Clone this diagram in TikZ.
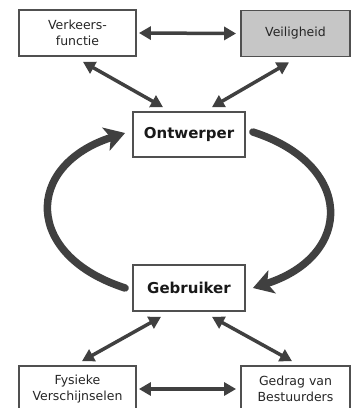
\documentclass[tikz,border=0pt]{standalone}
\usepackage{fontspec}
\setmainfont{DejaVu Sans}
\usetikzlibrary{arrows.meta,calc}
\definecolor{ln}{HTML}{404040}
\definecolor{bd}{HTML}{505050}
\definecolor{gf}{HTML}{C6C6C6}
\begin{document}
\begin{tikzpicture}[x=1pt,y=-1pt,
  box/.style={draw=bd,line width=1.8pt,fill=white,align=center,inner sep=0pt,
    font=\fontsize{12.5}{16}\selectfont,text=black!85},
  mainbox/.style={box,font=\fontsize{15}{17}\selectfont\bfseries,text=black!90},
  dbl/.style={ln,line width=3.5pt,{Triangle[length=12pt,width=13pt]}-{Triangle[length=12pt,width=13pt]}},
  big/.style={ln,line width=7.5pt,line cap=round,-{Stealth[length=20pt,width=24pt,inset=5pt]}}]
\useasboundingbox (0,0) rectangle (353,408);
\clip (0,0) rectangle (353,408);
\node[box,minimum width=117pt,minimum height=46pt] (vf) at (77.5,33) {Verkeers-\\functie};
\node[box,fill=gf,minimum width=109pt,minimum height=46pt] (vl) at (295.5,33.5) {Veiligheid};
\node[mainbox,minimum width=112pt,minimum height=45pt] (ow) at (189,134.5) {Ontwerper};
\node[mainbox,minimum width=112pt,minimum height=46pt] (gb) at (189,288) {Gebruiker};
\node[box,minimum width=117pt,minimum height=46pt] (fv) at (77.5,389) {Fysieke\\Verschijnselen};
\node[box,minimum width=109pt,minimum height=46pt] (gv) at (295.5,389) {Gedrag van\\Bestuurders};
% small double arrows
\draw[dbl] ($(vf.east)+(2,0)$) -- ($(vl.west)+(-4,0)$);
\draw[dbl] ($(vf.south)+(5.5,5)$) -- ($(ow.north)+(-26,-4)$);
\draw[dbl] ($(vl.south)+(-6.5,5)$) -- ($(ow.north)+(23,-4)$);
\draw[dbl] ($(gb.south)+(-28,5)$) -- ($(fv.north)+(4.5,-4)$);
\draw[dbl] ($(gb.south)+(23,5)$) -- ($(gv.north)+(-3.5,-4)$);
\draw[dbl] ($(fv.east)+(2,0)$) -- ($(gv.west)+(-4,0)$);
% big cycle arrows
\draw[big] ($(gb.west)+(-7,0)$) .. controls +(-101.3,-32.5) and +(-101.3,32.5) .. ($(ow.west)+(-7,-1.5)$);
\draw[big] ($(ow.east)+(7,-2.5)$) .. controls +(101.3,32.5) and +(101.3,-32.5) .. ($(gb.east)+(7,0)$);
\end{tikzpicture}
\end{document}
